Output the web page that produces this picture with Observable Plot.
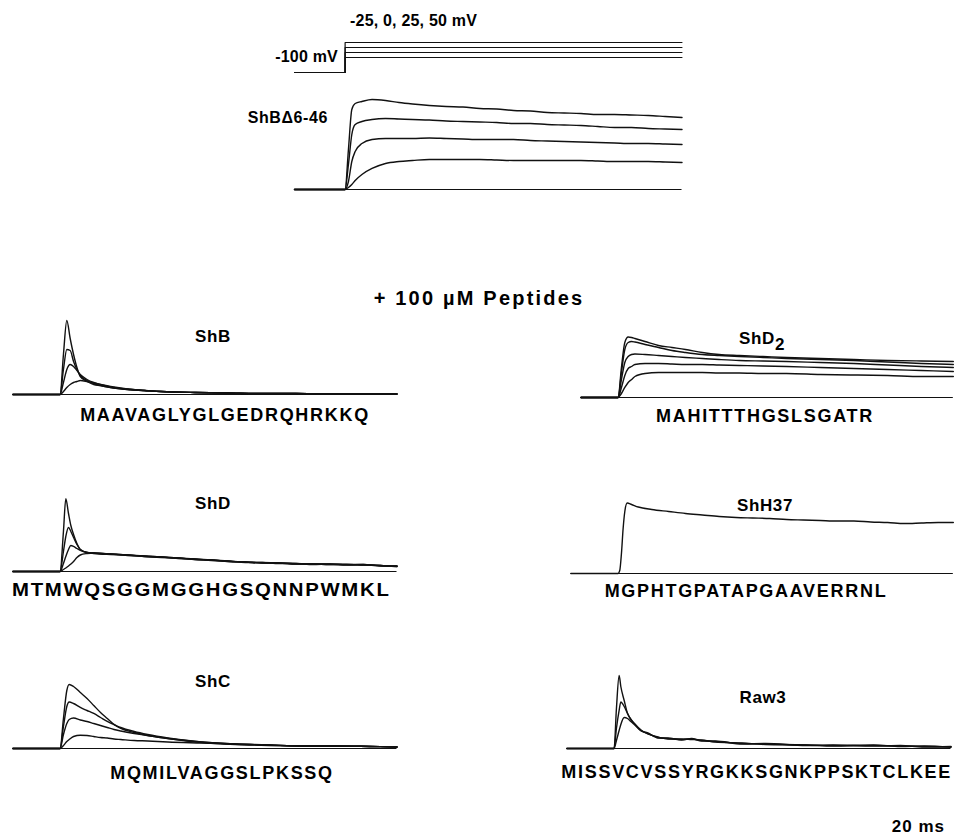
<!DOCTYPE html>
<html><head><meta charset="utf-8">
<script src="https://cdn.jsdelivr.net/npm/d3@7"></script>
<script src="https://cdn.jsdelivr.net/npm/@observablehq/plot@0.6"></script>
<style>
html,body{margin:0;padding:0;background:#fff;}
#fig{position:relative;width:955px;height:837px;overflow:hidden;font-family:"Liberation Sans",Arial,sans-serif;color:#000;}
.lbl{position:absolute;font-size:17px;font-weight:bold;line-height:1;white-space:nowrap;letter-spacing:0.6px;}
.top{font-size:16px;letter-spacing:0.2px;}
.seq{font-size:18px;letter-spacing:1.7px;}
.panel{position:absolute;}
.panel svg{display:block;overflow:visible;}
</style></head><body><div id="fig"></div>
<script>
// ---------------- data ----------------
const stepVoltages = [-25, 0, 25, 50];          // mV
const holdingVoltage = -100;                    // mV
const protocolTimes = [-15, 0, 100];            // ms

// ShBΔ6-46 control currents (arbitrary units)
const ctrlTime = [-15, 0, 1, 2, 3, 5, 8, 12, 16, 20, 25, 30, 35, 40, 45, 50, 55, 60, 65, 70, 75, 80, 85, 90, 95, 100];
const ctrlP50  = [0, 0, 40, 80, 86, 88, 90, 89, 87, 85.5, 84, 83, 82.5, 81, 80.5, 79, 78.5, 77, 76.5, 76, 75, 75, 74.5, 74, 73, 72];
const ctrlP25  = [0, 0, 25, 55, 65, 68, 70, 71, 70.5, 70, 69.5, 68.5, 68, 67.5, 67, 66, 66, 65, 64.5, 64, 63, 62, 62, 61, 60.5, 60];
const ctrl0    = [0, 0, 8, 28, 38, 46, 50, 51, 51, 51, 51.5, 51, 50.5, 50, 50, 50, 49, 48.5, 48, 47.5, 47, 46.5, 46, 46, 45.5, 45];
const ctrlM25  = [0, 0, 2, 5, 9, 15, 21, 26, 28, 29, 30, 30, 30, 30, 29.5, 29, 29, 29, 29, 29, 28.5, 28, 28, 28, 27.5, 27];

// + 100 µM peptides
const shbTime = [-14, 0, 1, 2, 3, 4, 5, 6, 8, 10, 12, 15, 20, 25, 30, 40, 50, 60, 70, 80, 90, 100];
const shb1 = [0, 0, 40, 74, 56, 40, 27, 18, 13, 10, 9, 7, 5, 4, 3, 2, 1.5, 1, 1, 0.5, 0.5, 0.5];
const shb2 = [0, 0, 25, 45, 44, 33, 25, 19, 14, 11, 9, 7, 5, 4, 3, 2, 1.5, 1, 1, 0.5, 0.5, 0.5];
const shb3 = [0, 0, 12, 25, 30, 28, 24, 20, 15, 12, 10, 7.5, 5.5, 4, 3, 2, 1.5, 1, 1, 0.5, 0.5, 0.5];
const shb4 = [0, 0, 3, 7, 10, 12, 13, 14, 13, 11.5, 10, 8, 5.5, 4, 3, 2, 1.5, 1, 1, 0.5, 0.5, 0.5];

const shd2Time = [-11, 0, 1, 2, 3, 4, 5, 8, 12, 16, 20, 25, 30, 36, 43, 50, 60, 70, 80, 90, 99.5];
const shd2a = [0, 0, 30, 55, 60.5, 60, 59, 56, 52, 50, 48, 45, 43, 42, 41, 40, 39, 38, 37, 36.5, 36];
const shd2b = [0, 0, 25, 48, 55, 56, 55.5, 53, 50, 47, 45, 43, 42, 41, 40, 39, 38, 37, 35.5, 34, 33];
const shd2c = [0, 0, 18, 35, 41, 43, 43.5, 43, 42, 41, 40, 39, 38, 37, 36.5, 36, 35, 34, 32.5, 31, 30];
const shd2d = [0, 0, 10, 22, 29, 31, 33, 34, 34, 33.5, 33, 33, 32.5, 32, 31.5, 31, 30, 29, 28, 27, 26];
const shd2e = [0, 0, 4, 10, 15, 18, 21, 24, 25, 25, 25, 25, 24.5, 24.5, 24, 24, 23, 22.5, 22, 21, 21];

const shdTime = [-14, 0, 1, 1.7, 2.5, 3.2, 4, 5, 6, 8, 10, 15, 20, 25, 30, 35, 40, 45, 50, 55, 60, 65, 70, 75, 80, 85, 90, 95, 100];
const shd1 = [0, 0, 40, 72.7, 58, 46, 37, 28, 22, 19, 18.5, 17.5, 16.5, 15.5, 14.5, 13.5, 12.5, 11.5, 10.5, 9.5, 9, 8.5, 8, 7.5, 7.5, 7, 7, 6, 5.5];
const shd2 = [0, 0, 20, 35, 44, 40, 34, 27, 22, 19, 18, 17, 16.5, 15, 14, 13.5, 12, 11.5, 10, 9.5, 8.5, 8.5, 7.5, 7.5, 7, 7, 6.5, 6, 5];
const shd3 = [0, 0, 8, 15, 22, 26, 25, 23, 21, 19, 18.5, 17.5, 16, 15.5, 14.5, 13, 12.5, 11, 10.5, 9, 9, 8, 8, 7, 7.5, 6.5, 7, 5.5, 5.5];
const shd4 = [0, 0, 2, 3.5, 5.5, 7.5, 10, 14, 16.5, 18, 18.5, 17.5, 16.5, 15, 14.5, 13.5, 12, 11.5, 10, 9.5, 8.5, 8.5, 7.5, 7.5, 7, 7, 6.5, 6, 5];

const h37Time = [-14, 0, 0.5, 1, 1.5, 2, 2.7, 4, 6, 10, 15, 20, 25, 30, 35, 40, 45, 50, 55, 60, 65, 70, 75, 80, 85, 90, 95, 99.5];
const h37 = [0, 0, 3, 20, 45, 62, 70.5, 69, 66.5, 64, 62, 60, 58.5, 57, 56, 55.5, 55, 54, 53.5, 53, 52.5, 52.5, 51.5, 51, 50, 50.5, 51, 51];

const shcTime = [-14, 0, 1, 2, 2.7, 4, 6, 8, 10, 12, 14, 16, 18, 22, 26, 32, 42, 52, 62, 72, 82, 92, 100];
const shc1 = [0, 0, 30, 58, 64, 62, 56, 50, 43, 36, 30, 24, 20, 16, 13, 10, 6, 4, 3, 2.5, 2.5, 2, 1.5];
const shc2 = [0, 0, 22, 42, 46.5, 45, 41, 38, 35, 31, 27, 24, 21, 17, 14, 10.5, 6.5, 4.5, 3.5, 2.5, 2.5, 2, 1.5];
const shc3 = [0, 0, 14, 25, 29, 30.5, 28.5, 27, 25, 23, 21, 19, 17.5, 15, 13, 10, 6.5, 4.5, 3.5, 2.5, 2.5, 2, 1.5];
const shc4 = [0, 0, 3, 7, 9, 12, 13.3, 13, 12, 11, 10.5, 9.5, 9, 8, 7.5, 6.5, 5.5, 4.5, 3.5, 2.5, 2.5, 2, 1.5];

const raw3Time = [-14, 0, 0.7, 1.5, 2, 3, 4, 5, 6, 8, 10, 13, 16, 20, 23, 26, 30, 38, 45, 57, 65, 77, 85, 92, 100];
const raw3a = [0, 0, 40, 73, 62, 48, 35, 29, 25, 18, 15, 11, 10, 9, 9.5, 8, 7, 5, 4.5, 3.5, 3, 3, 2.5, 2, 1.7];
const raw3b = [0, 0, 20, 38, 46.5, 42, 35, 29, 25, 18.5, 14.5, 11.5, 9.5, 9.5, 9, 8.5, 6.5, 5.5, 4, 3.5, 2.5, 3.5, 2, 2.5, 1.2];
const raw3c = [0, 0, 8, 18, 24, 31, 30, 27, 24, 17.5, 15.5, 10.5, 10.5, 8.5, 10, 7.5, 7.5, 4.5, 5, 3, 3.5, 2.5, 3, 1.5, 2];

const panelNames = ["ShB", "ShD2", "ShD", "ShH37", "ShC", "Raw3"];
const sequences = ["MAAVAGLYGLGEDRQHRKKQ", "MAHITTTHGSLSGATR", "MTMWQSGGMGGHGSQNNPWMKL",
                   "MGPHTGPATAPGAAVERRNL", "MQMILVAGGSLPKSSQ", "MISSVCVSSYRGKKSGNKPPSKTCLKEE"];

// ---------------- layout ----------------
const fig = document.getElementById("fig");
const PX_PER_MS = 3.37;
const X_DOMAIN = [-15, 100];
const PW = (X_DOMAIN[1] - X_DOMAIN[0]) * PX_PER_MS;

function place(node, left, top) {
  const d = document.createElement("div");
  d.className = "panel";
  d.style.left = left + "px";
  d.style.top = top + "px";
  d.appendChild(node);
  fig.appendChild(d);
}
function label(html, x, y, anchor = "middle", cls = "", extra = "") {
  const d = document.createElement("div");
  d.className = "lbl " + cls;
  d.innerHTML = html;
  const tx = anchor === "middle" ? "-50%" : anchor === "end" ? "-100%" : "0";
  d.style.left = x + "px";
  d.style.top = y + "px";
  d.style.transform = `translate(${tx},-50%)`;
  if (extra) d.style.cssText += extra;
  fig.appendChild(d);
  return d;
}

function currentPlot(time, traces, stepX, baseY, yTop) {
  const rows = traces.flatMap((tr, k) => tr.map((v, i) => ({t: time[i], cur: v, k})));
  const p = Plot.plot({
    width: PW, height: yTop + 4, margin: 0,
    x: {domain: X_DOMAIN, axis: null},
    y: {domain: [-4, yTop], axis: null},
    marks: [
      Plot.ruleY([0], {x1: time[0], x2: time[time.length - 1], stroke: "#111", strokeWidth: 1.1}),
      Plot.line(rows, {x: "t", y: "cur", z: "k", curve: "monotone-x", stroke: "#111", strokeWidth: 1.4})
    ]
  });
  place(p, stepX - (0 - X_DOMAIN[0]) * PX_PER_MS, baseY - yTop);
}

// voltage protocol
(function () {
  const rows = stepVoltages.flatMap((v, k) => protocolTimes.map((t, i) => ({t, v: i === 0 ? holdingVoltage : v, k})));
  const vDom = [-110, 60];
  const pxPerMv = 0.2;
  const p = Plot.plot({
    width: PW, height: (vDom[1] - vDom[0]) * pxPerMv, margin: 0,
    x: {domain: X_DOMAIN, axis: null},
    y: {domain: vDom, axis: null},
    marks: [Plot.line(rows, {x: "t", y: "v", z: "k", curve: "step-after", stroke: "#111", strokeWidth: 1.2})]
  });
  place(p, 345 - 15 * PX_PER_MS, 71.7 - (vDom[1] - holdingVoltage) * pxPerMv);
})();

currentPlot(ctrlTime, [ctrlP50, ctrlP25, ctrl0, ctrlM25], 345, 189, 94);
currentPlot(shbTime, [shb1, shb2, shb3, shb4], 59.5, 393.5, 78);
currentPlot(shd2Time, [shd2a, shd2b, shd2c, shd2d, shd2e], 618, 396.5, 78);
currentPlot(shdTime, [shd1, shd2, shd3, shd4], 60, 571, 78);
currentPlot(h37Time, [h37], 618, 573, 78);
currentPlot(shcTime, [shc1, shc2, shc3, shc4], 59.5, 747.5, 78);
currentPlot(raw3Time, [raw3a, raw3b, raw3c], 613.5, 748, 78);

// texts
label(`${stepVoltages.join(", ")} mV`, 350, 21, "start", "top");
label(`${holdingVoltage} mV`, 338, 57, "end", "top");
label("ShBΔ6-46", 328, 118, "end", "top", "letter-spacing:0.6px;");
label("+ 100 µM Peptides", 479, 298, "middle", "", "font-size:20px;letter-spacing:2.2px;");

label(panelNames[0], 213, 336);
label('ShD<span style="position:relative;top:6px">2</span>', 762, 338);
label(panelNames[2], 213, 503);
label(panelNames[3], 765, 505);
label(panelNames[4], 213, 681);
label(panelNames[5], 763, 697);

label(sequences[0], 225, 415, "middle", "seq");
label(sequences[1], 765, 416, "middle", "seq");
label(`<span style="display:inline-block;transform:scaleX(1.13);transform-origin:0 50%;">${sequences[2]}</span>`,
      12, 590, "start", "seq", "letter-spacing:1.5px;");
label(sequences[3], 746, 591, "middle", "seq");
label(sequences[4], 222, 773, "middle", "seq");
label(sequences[5], 952, 772, "end", "seq");
label("20 ms", 945, 826, "end", "", "letter-spacing:1px;");
</script></body></html>
